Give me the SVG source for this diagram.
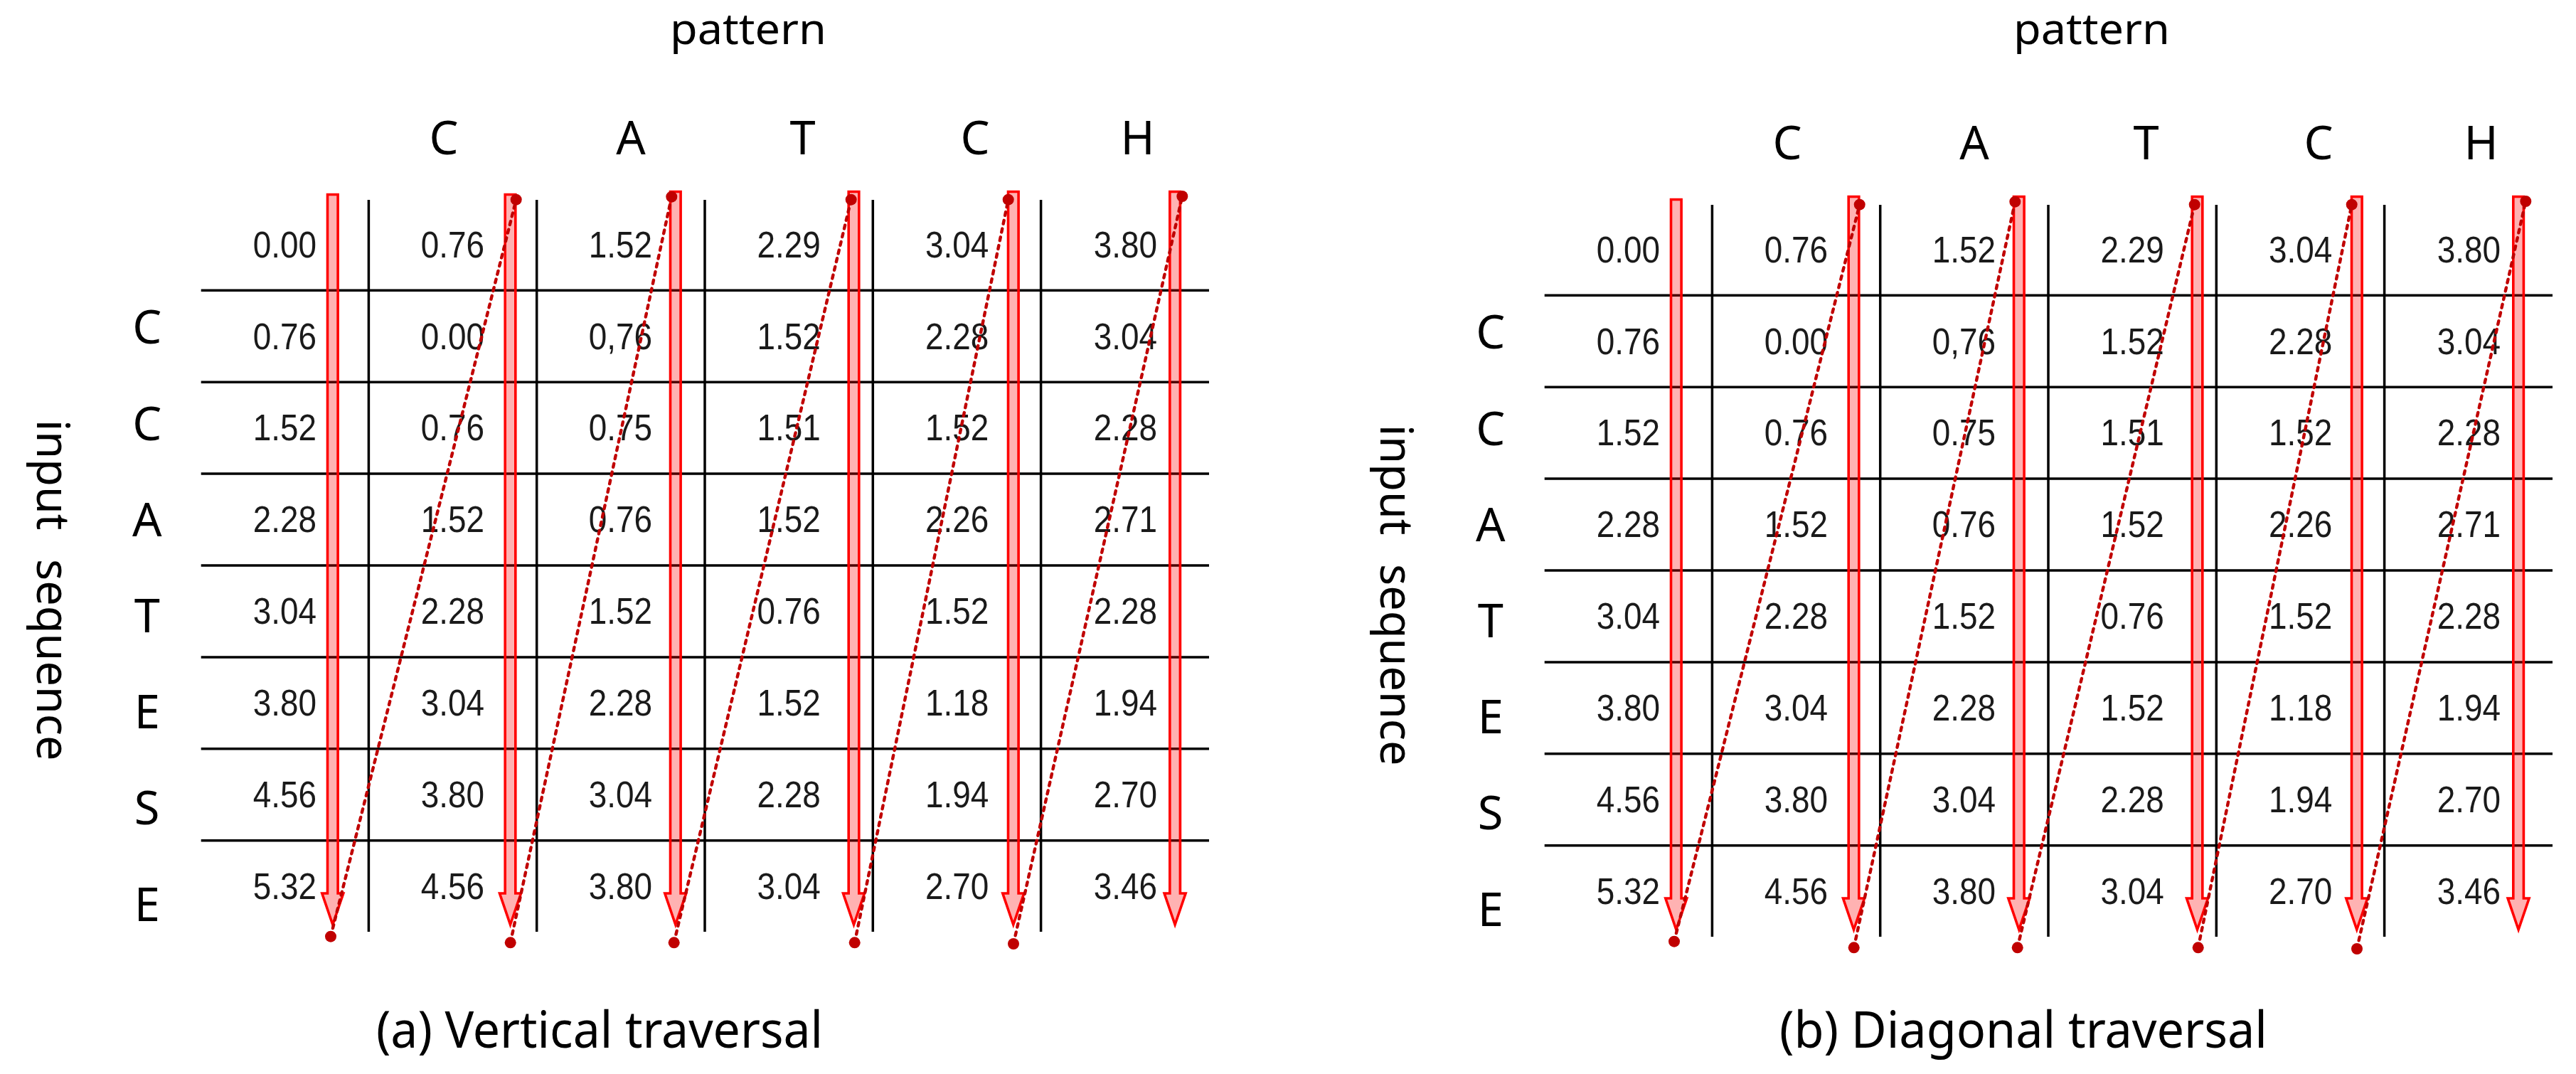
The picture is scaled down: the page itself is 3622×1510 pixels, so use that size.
<svg xmlns="http://www.w3.org/2000/svg" width="3622" height="1510" viewBox="0 0 3622 1510">
<style>
.bg{fill:#fff}
.grid{stroke:#000;stroke-width:3.5;fill:none}
.num{font-family:"Liberation Sans",Arial,sans-serif;font-size:51px;fill:#1a1a1a;text-anchor:end}
.lbl{font-family:"Noto Sans","Open Sans",sans-serif;font-size:65px;fill:#000;text-anchor:middle}
.title{font-family:"Noto Sans","Open Sans",sans-serif;font-size:60px;fill:#000}
.cap{font-family:"Noto Sans","Open Sans",sans-serif;font-size:71px;fill:#000}
.side{font-family:"Noto Sans","Open Sans",sans-serif;font-size:63px;fill:#000;word-spacing:24px}
.arrow{fill:#FF0000;fill-opacity:0.3;stroke:#FF0000;stroke-width:3.6;stroke-miterlimit:10}
.trace{stroke:#C00000;stroke-width:4.4;stroke-dasharray:5 7;stroke-linecap:round;fill:none}
.dot{fill:#C00000}
</style>
<rect class="bg" x="0" y="0" width="3622" height="1510"/>

<text class="title" x="942" y="62" textLength="220" lengthAdjust="spacingAndGlyphs">pattern</text>
<text class="title" x="2831" y="62" textLength="220" lengthAdjust="spacingAndGlyphs">pattern</text>
<text class="cap" x="529" y="1472.7" textLength="628" lengthAdjust="spacingAndGlyphs">(a) Vertical traversal</text>
<text class="cap" x="2502" y="1472.7" textLength="686" lengthAdjust="spacingAndGlyphs">(b) Diagonal traversal</text>

<g id="panel-a">
 <g id="labels-a">
  <text class="lbl" x="624" y="216.7">C</text>
  <text class="lbl" x="887" y="216.7">A</text>
  <text class="lbl" x="1128.5" y="216.7">T</text>
  <text class="lbl" x="1371" y="216.7">C</text>
  <text class="lbl" x="1599.5" y="216.7">H</text>
  <text class="lbl" x="206.7" y="483.3">C</text>
  <text class="lbl" x="206.7" y="618.5">C</text>
  <text class="lbl" x="206.7" y="753.7">A</text>
  <text class="lbl" x="206.7" y="888.9">T</text>
  <text class="lbl" x="206.7" y="1024.1">E</text>
  <text class="lbl" x="206.7" y="1159.3">S</text>
  <text class="lbl" x="206.7" y="1294.5">E</text>
  <text class="side" transform="translate(51.7,590) rotate(90)">input sequence</text>
 </g>
 <g id="grid-a" class="grid">
  <path d="M282.7 408.3H1700M282.7 537.2H1700M282.7 666.1H1700M282.7 795H1700M282.7 923.9H1700M282.7 1052.8H1700M282.7 1181.7H1700"/>
  <path d="M518.4 281V1310M754.7 281V1310M991 281V1310M1227.3 281V1310M1463.6 281V1310"/>
 </g>
 <g id="cells-a" transform="matrix(0.9,0,0,1,0,0)">
  <g class="num">
   <text x="494.4" y="361.7">0.00</text><text x="756.7" y="361.7">0.76</text><text x="1018.9" y="361.7">1.52</text><text x="1281.9" y="361.7">2.29</text><text x="1544.8" y="361.7">3.04</text><text x="1807.8" y="361.7">3.80</text>
   <text x="494.4" y="490.6">0.76</text><text x="756.7" y="490.6">0.00</text><text x="1018.9" y="490.6">0,76</text><text x="1281.9" y="490.6">1.52</text><text x="1544.8" y="490.6">2.28</text><text x="1807.8" y="490.6">3.04</text>
   <text x="494.4" y="619.5">1.52</text><text x="756.7" y="619.5">0.76</text><text x="1018.9" y="619.5">0.75</text><text x="1281.9" y="619.5">1.51</text><text x="1544.8" y="619.5">1.52</text><text x="1807.8" y="619.5">2.28</text>
   <text x="494.4" y="748.4">2.28</text><text x="756.7" y="748.4">1.52</text><text x="1018.9" y="748.4">0.76</text><text x="1281.9" y="748.4">1.52</text><text x="1544.8" y="748.4">2.26</text><text x="1807.8" y="748.4">2.71</text>
   <text x="494.4" y="877.3">3.04</text><text x="756.7" y="877.3">2.28</text><text x="1018.9" y="877.3">1.52</text><text x="1281.9" y="877.3">0.76</text><text x="1544.8" y="877.3">1.52</text><text x="1807.8" y="877.3">2.28</text>
   <text x="494.4" y="1006.2">3.80</text><text x="756.7" y="1006.2">3.04</text><text x="1018.9" y="1006.2">2.28</text><text x="1281.9" y="1006.2">1.52</text><text x="1544.8" y="1006.2">1.18</text><text x="1807.8" y="1006.2">1.94</text>
   <text x="494.4" y="1135.1">4.56</text><text x="756.7" y="1135.1">3.80</text><text x="1018.9" y="1135.1">3.04</text><text x="1281.9" y="1135.1">2.28</text><text x="1544.8" y="1135.1">1.94</text><text x="1807.8" y="1135.1">2.70</text>
   <text x="494.4" y="1264">5.32</text><text x="756.7" y="1264">4.56</text><text x="1018.9" y="1264">3.80</text><text x="1281.9" y="1264">3.04</text><text x="1544.8" y="1264">2.70</text><text x="1807.8" y="1264">3.46</text>
  </g>
 </g>
 <g id="arrows-a" class="arrow">
  <path d="M460.5 273.5H475.1V1256H482.8L467.8 1300L452.8 1256H460.5Z"/>
  <path d="M710.2 273.5H724.8V1256H732.5L717.5 1300L702.5 1256H710.2Z"/>
  <path d="M942.5 269.5H957.1V1256H964.8L949.8 1300L934.8 1256H942.5Z"/>
  <path d="M1193.2 269.5H1207.8V1256H1215.5L1200.5 1300L1185.5 1256H1193.2Z"/>
  <path d="M1417.5 269.5H1432.1V1256H1439.8L1424.8 1300L1409.8 1256H1417.5Z"/>
  <path d="M1644.8 269.5H1659.4V1256H1667.1L1652.1 1300L1637.1 1256H1644.8Z"/>
 </g>
 <g id="connectors-a">
  <g class="trace">
   <path d="M465 1316.7L725.7 280.7"/>
   <path d="M717.7 1325.3L944.3 276.7"/>
   <path d="M947.7 1325.3L1196.7 280.7"/>
   <path d="M1201.7 1325.3L1417.7 280.7"/>
   <path d="M1425 1327L1662.3 276"/>
  </g>
  <g class="dot">
   <circle cx="465" cy="1316.7" r="8"/><circle cx="725.7" cy="280.7" r="8"/>
   <circle cx="717.7" cy="1325.3" r="8"/><circle cx="944.3" cy="276.7" r="8"/>
   <circle cx="947.7" cy="1325.3" r="8"/><circle cx="1196.7" cy="280.7" r="8"/>
   <circle cx="1201.7" cy="1325.3" r="8"/><circle cx="1417.7" cy="280.7" r="8"/>
   <circle cx="1425" cy="1327" r="8"/><circle cx="1662.3" cy="276" r="8"/>
  </g>
 </g>
</g>

<g id="panel-b" transform="translate(1889,7)">
 <g id="labels-b">
  <text class="lbl" x="624" y="216.7">C</text>
  <text class="lbl" x="887" y="216.7">A</text>
  <text class="lbl" x="1128.5" y="216.7">T</text>
  <text class="lbl" x="1371" y="216.7">C</text>
  <text class="lbl" x="1599.5" y="216.7">H</text>
  <text class="lbl" x="206.7" y="483.3">C</text>
  <text class="lbl" x="206.7" y="618.5">C</text>
  <text class="lbl" x="206.7" y="753.7">A</text>
  <text class="lbl" x="206.7" y="888.9">T</text>
  <text class="lbl" x="206.7" y="1024.1">E</text>
  <text class="lbl" x="206.7" y="1159.3">S</text>
  <text class="lbl" x="206.7" y="1294.5">E</text>
  <text class="side" transform="translate(51.7,590) rotate(90)">input sequence</text>
 </g>
 <g id="grid-b" class="grid">
  <path d="M282.7 408.3H1700M282.7 537.2H1700M282.7 666.1H1700M282.7 795H1700M282.7 923.9H1700M282.7 1052.8H1700M282.7 1181.7H1700"/>
  <path d="M518.4 281V1310M754.7 281V1310M991 281V1310M1227.3 281V1310M1463.6 281V1310"/>
 </g>
 <g id="cells-b" transform="matrix(0.9,0,0,1,0,0)">
  <g class="num">
   <text x="494.4" y="361.7">0.00</text><text x="756.7" y="361.7">0.76</text><text x="1018.9" y="361.7">1.52</text><text x="1281.9" y="361.7">2.29</text><text x="1544.8" y="361.7">3.04</text><text x="1807.8" y="361.7">3.80</text>
   <text x="494.4" y="490.6">0.76</text><text x="756.7" y="490.6">0.00</text><text x="1018.9" y="490.6">0,76</text><text x="1281.9" y="490.6">1.52</text><text x="1544.8" y="490.6">2.28</text><text x="1807.8" y="490.6">3.04</text>
   <text x="494.4" y="619.5">1.52</text><text x="756.7" y="619.5">0.76</text><text x="1018.9" y="619.5">0.75</text><text x="1281.9" y="619.5">1.51</text><text x="1544.8" y="619.5">1.52</text><text x="1807.8" y="619.5">2.28</text>
   <text x="494.4" y="748.4">2.28</text><text x="756.7" y="748.4">1.52</text><text x="1018.9" y="748.4">0.76</text><text x="1281.9" y="748.4">1.52</text><text x="1544.8" y="748.4">2.26</text><text x="1807.8" y="748.4">2.71</text>
   <text x="494.4" y="877.3">3.04</text><text x="756.7" y="877.3">2.28</text><text x="1018.9" y="877.3">1.52</text><text x="1281.9" y="877.3">0.76</text><text x="1544.8" y="877.3">1.52</text><text x="1807.8" y="877.3">2.28</text>
   <text x="494.4" y="1006.2">3.80</text><text x="756.7" y="1006.2">3.04</text><text x="1018.9" y="1006.2">2.28</text><text x="1281.9" y="1006.2">1.52</text><text x="1544.8" y="1006.2">1.18</text><text x="1807.8" y="1006.2">1.94</text>
   <text x="494.4" y="1135.1">4.56</text><text x="756.7" y="1135.1">3.80</text><text x="1018.9" y="1135.1">3.04</text><text x="1281.9" y="1135.1">2.28</text><text x="1544.8" y="1135.1">1.94</text><text x="1807.8" y="1135.1">2.70</text>
   <text x="494.4" y="1264">5.32</text><text x="756.7" y="1264">4.56</text><text x="1018.9" y="1264">3.80</text><text x="1281.9" y="1264">3.04</text><text x="1544.8" y="1264">2.70</text><text x="1807.8" y="1264">3.46</text>
  </g>
 </g>
 <g id="arrows-b" class="arrow">
  <path d="M460.5 273.5H475.1V1256H482.8L467.8 1300L452.8 1256H460.5Z"/>
  <path d="M710.2 269.5H724.8V1256H732.5L717.5 1300L702.5 1256H710.2Z"/>
  <path d="M942.5 269.5H957.1V1256H964.8L949.8 1300L934.8 1256H942.5Z"/>
  <path d="M1193.2 269.5H1207.8V1256H1215.5L1200.5 1300L1185.5 1256H1193.2Z"/>
  <path d="M1417.5 269.5H1432.1V1256H1439.8L1424.8 1300L1409.8 1256H1417.5Z"/>
  <path d="M1644.8 269.5H1659.4V1256H1667.1L1652.1 1300L1637.1 1256H1644.8Z"/>
 </g>
 <g id="connectors-b">
  <g class="trace">
   <path d="M465 1316.7L725.7 280.7"/>
   <path d="M717.7 1325.3L944.3 276.7"/>
   <path d="M947.7 1325.3L1196.7 280.7"/>
   <path d="M1201.7 1325.3L1417.7 280.7"/>
   <path d="M1425 1327L1662.3 276"/>
  </g>
  <g class="dot">
   <circle cx="465" cy="1316.7" r="8"/><circle cx="725.7" cy="280.7" r="8"/>
   <circle cx="717.7" cy="1325.3" r="8"/><circle cx="944.3" cy="276.7" r="8"/>
   <circle cx="947.7" cy="1325.3" r="8"/><circle cx="1196.7" cy="280.7" r="8"/>
   <circle cx="1201.7" cy="1325.3" r="8"/><circle cx="1417.7" cy="280.7" r="8"/>
   <circle cx="1425" cy="1327" r="8"/><circle cx="1662.3" cy="276" r="8"/>
  </g>
 </g>
</g>
</svg>
